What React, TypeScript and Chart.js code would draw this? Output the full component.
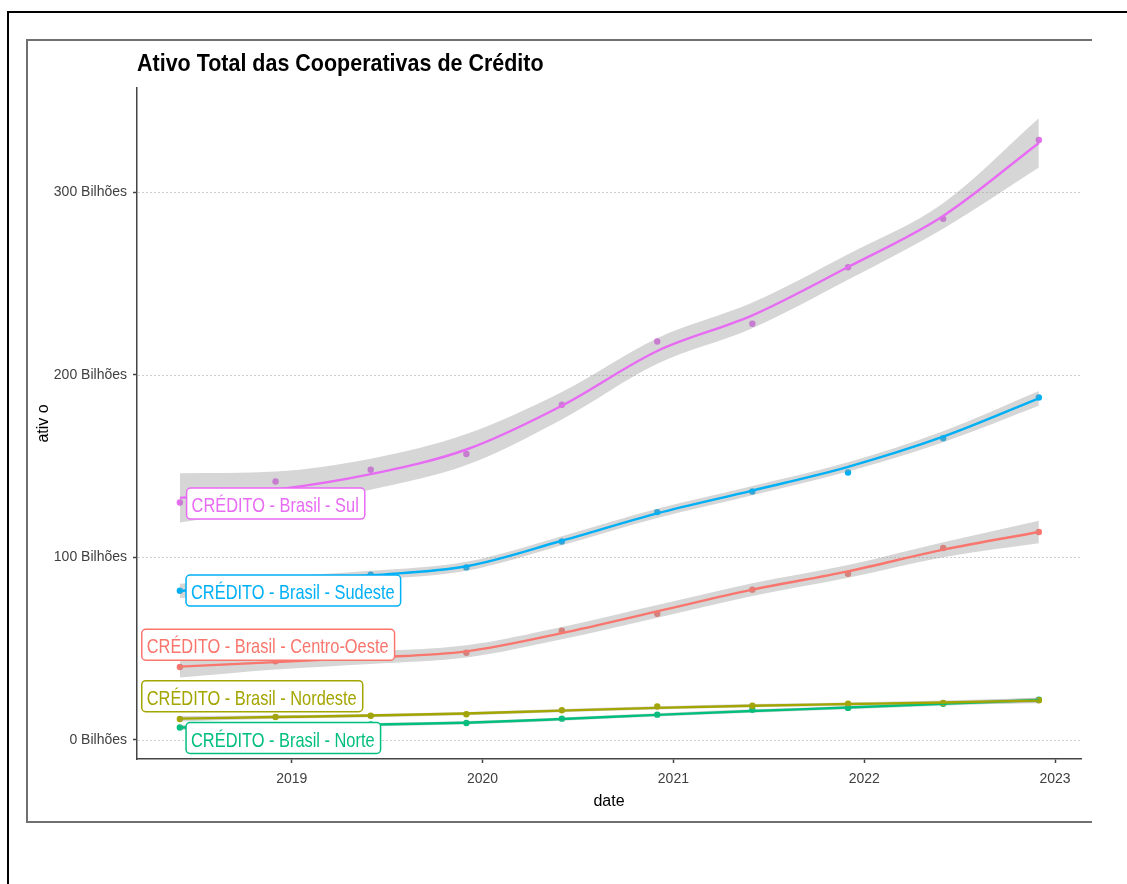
import React, { useEffect, useRef } from "react";
import { Chart, registerables } from "chart.js";

Chart.register(...registerables);

// ---------- data ----------
const dates = [
  "2018-06-01", "2018-12-01", "2019-06-01", "2019-12-01", "2020-06-01",
  "2020-12-01", "2021-06-01", "2021-12-01", "2022-06-01", "2022-12-01",
];

const regions = [
  "CRÉDITO - Brasil - Centro-Oeste",
  "CRÉDITO - Brasil - Nordeste",
  "CRÉDITO - Brasil - Norte",
  "CRÉDITO - Brasil - Sudeste",
  "CRÉDITO - Brasil - Sul",
];

// observed points (Bilhões)
const centroOeste = [39.8, 42.9, 45.0, 47.6, 59.7, 69.0, 82.2, 90.9, 105.0, 113.8];
const nordeste = [11.3, 12.4, 13.1, 13.9, 16.1, 18.2, 18.6, 19.7, 20.1, 21.6];
const norte = [6.7, 7.6, 8.3, 9.1, 11.5, 13.7, 16.4, 17.4, 19.7, 21.9];
const sudeste = [81.6, 85.0, 90.4, 94.4, 108.6, 124.7, 136.0, 146.4, 165.2, 187.5];
const sul = [130.0, 141.5, 147.9, 156.5, 183.5, 218.2, 227.9, 258.9, 285.4, 328.6];

// smoothed (loess) fit
const centroOesteFit = [40.0, 42.5, 45.0, 48.4, 58.4, 70.3, 82.2, 92.2, 104.1, 113.8];
const nordesteFit = [11.5, 12.4, 13.2, 14.3, 15.9, 17.4, 18.6, 19.5, 20.4, 21.4];
const norteFit = [6.7, 7.5, 8.2, 9.3, 11.3, 13.6, 15.7, 17.6, 19.6, 21.7];
const sudesteFit = [81.5, 86.0, 90.0, 95.0, 109.0, 124.0, 136.5, 149.5, 166.0, 187.0];
const sulFit = [132.5, 137.0, 145.5, 159.0, 183.0, 213.0, 232.5, 259.0, 287.0, 327.0];

// confidence band lower / upper
const centroOesteLow = [34.0, 38.5, 41.5, 45.0, 55.0, 66.8, 78.7, 88.7, 100.0, 107.6];
const centroOesteHigh = [46.0, 46.5, 48.5, 51.8, 61.8, 73.8, 85.7, 95.7, 108.2, 120.0];
const nordesteLow = [10.0, 11.4, 12.3, 13.4, 15.0, 16.5, 17.7, 18.6, 19.4, 20.0];
const nordesteHigh = [13.0, 13.4, 14.1, 15.2, 16.8, 18.3, 19.5, 20.4, 21.4, 22.8];
const norteLow = [5.3, 6.5, 7.3, 8.4, 10.4, 12.7, 14.8, 16.7, 18.6, 20.3];
const norteHigh = [8.1, 8.5, 9.1, 10.2, 12.2, 14.5, 16.6, 18.5, 20.6, 23.1];
const sudesteLow = [77.5, 83.0, 87.5, 92.5, 106.5, 121.5, 134.0, 147.0, 163.0, 183.0];
const sudesteHigh = [85.5, 89.0, 92.5, 97.5, 111.5, 126.5, 139.0, 152.0, 169.0, 191.0];
const sulLow = [119.0, 127.0, 137.0, 150.5, 175.5, 206.0, 225.5, 252.0, 280.0, 313.5];
const sulHigh = [146.0, 147.0, 154.0, 167.5, 190.5, 220.0, 239.5, 266.0, 294.0, 340.5];

// label anchors (left edge as decimal year, vertical centre in Bilhões)
const labelX = [2018.214, 2018.214, 2018.446, 2018.446, 2018.449];
const labelY = [52.0, 23.8, 0.9, 81.7, 129.4];

const yearTicks = [2019, 2020, 2021, 2022, 2023];
const valueTicks = [0, 100, 200, 300];

const title = "Ativo Total das Cooperativas de Crédito";
const xTitle = "date";
const yTitle = "ativ o";

// ---------- styling ----------
const colors = ["#F8766D", "#A3A500", "#00BF7D", "#00B0F6", "#E76BF3"];
const FONT = '"Liberation Sans", Arial, Helvetica, sans-serif';
const RIBBON = "rgba(153,153,153,0.4)";

const observed = [centroOeste, nordeste, norte, sudeste, sul];
const fits = [centroOesteFit, nordesteFit, norteFit, sudesteFit, sulFit];
const lows = [centroOesteLow, nordesteLow, norteLow, sudesteLow, sulLow];
const highs = [centroOesteHigh, nordesteHigh, norteHigh, sudesteHigh, sulHigh];

function toYear(s: string): number {
  const [y, m, d] = s.split("-").map(Number);
  const start = Date.UTC(y, 0, 1);
  const end = Date.UTC(y + 1, 0, 1);
  return y + (Date.UTC(y, m - 1, d) - start) / (end - start);
}

function pts(vals: number[]) {
  return dates.map((d, j) => ({ x: toYear(d), y: vals[j] }));
}

const decorPlugin = {
  id: "decor",
  beforeDatasetsDraw(chart: any) {
    const { ctx, chartArea } = chart;
    const ys = chart.scales.y;
    ctx.save();
    ctx.strokeStyle = "#cfcfcf";
    ctx.lineWidth = 1;
    ctx.setLineDash([2, 2]);
    valueTicks.forEach((v) => {
      const y = Math.round(ys.getPixelForValue(v)) + 0.5;
      ctx.beginPath();
      ctx.moveTo(chartArea.left + 1, y);
      ctx.lineTo(chartArea.right, y);
      ctx.stroke();
    });
    ctx.restore();
  },
  afterDatasetsDraw(chart: any) {
    const { ctx } = chart;
    const xs = chart.scales.x;
    const ys = chart.scales.y;
    const SX = 0.78;
    ctx.save();
    ctx.font = `21px ${FONT}`;
    regions.forEach((txt, i) => {
      const left = xs.getPixelForValue(labelX[i]);
      const cy = ys.getPixelForValue(labelY[i]);
      const tw = ctx.measureText(txt).width * SX;
      const w = tw + 11;
      const h = 31;
      const top = cy - h / 2;
      const r = 4;
      ctx.beginPath();
      ctx.moveTo(left + r, top);
      ctx.lineTo(left + w - r, top);
      ctx.arcTo(left + w, top, left + w, top + r, r);
      ctx.lineTo(left + w, top + h - r);
      ctx.arcTo(left + w, top + h, left + w - r, top + h, r);
      ctx.lineTo(left + r, top + h);
      ctx.arcTo(left, top + h, left, top + h - r, r);
      ctx.lineTo(left, top + r);
      ctx.arcTo(left, top, left + r, top, r);
      ctx.closePath();
      ctx.fillStyle = "#ffffff";
      ctx.fill();
      ctx.strokeStyle = colors[i];
      ctx.lineWidth = 1.5;
      ctx.stroke();
      ctx.save();
      ctx.translate(left + 5, cy + 8.5);
      ctx.scale(SX, 1);
      ctx.fillStyle = colors[i];
      ctx.textBaseline = "alphabetic";
      ctx.textAlign = "left";
      ctx.fillText(txt, 0, 0);
      ctx.restore();
    });
    ctx.restore();
  },
  afterDraw(chart: any) {
    const { ctx, chartArea } = chart;
    ctx.save();
    // title
    ctx.save();
    ctx.font = `bold 24px ${FONT}`;
    ctx.fillStyle = "#000000";
    ctx.textBaseline = "alphabetic";
    ctx.translate(chartArea.left, 70.5);
    ctx.scale(0.895, 1);
    ctx.fillText(title, 0, 0);
    ctx.restore();
    // x title
    ctx.font = `16px ${FONT}`;
    ctx.fillStyle = "#000000";
    ctx.textAlign = "center";
    ctx.textBaseline = "alphabetic";
    ctx.fillText(xTitle, (chartArea.left + chartArea.right) / 2, 806);
    // y title
    ctx.save();
    ctx.translate(48, (chartArea.top + chartArea.bottom) / 2);
    ctx.rotate(-Math.PI / 2);
    ctx.fillText(yTitle, 0, 0);
    ctx.restore();
    ctx.restore();
  },
};

export default function App() {
  const ref = useRef<HTMLCanvasElement | null>(null);

  useEffect(() => {
    if (!ref.current) return;
    const datasets: any[] = [];
    // points (bottom layer)
    observed.forEach((vals, i) => {
      datasets.push({
        data: pts(vals),
        showLine: false,
        pointRadius: 3.2,
        pointBackgroundColor: colors[i],
        pointBorderWidth: 0,
        borderColor: colors[i],
        order: 3,
      });
    });
    // ribbons
    regions.forEach((_, i) => {
      datasets.push({
        data: pts(lows[i]),
        borderWidth: 0,
        pointRadius: 0,
        fill: false,
        cubicInterpolationMode: "monotone",
        order: 2,
      });
      datasets.push({
        data: pts(highs[i]),
        borderWidth: 0,
        pointRadius: 0,
        fill: "-1",
        backgroundColor: RIBBON,
        cubicInterpolationMode: "monotone",
        order: 2,
      });
    });
    // smooth lines (top)
    fits.forEach((vals, i) => {
      datasets.push({
        data: pts(vals),
        borderColor: colors[i],
        borderWidth: 2.4,
        pointRadius: 0,
        fill: false,
        cubicInterpolationMode: "monotone",
        order: 1,
      });
    });

    const tickFont = { family: FONT, size: 14 };
    const chart = new Chart(ref.current, {
      type: "line",
      data: { datasets },
      options: {
        animation: false,
        responsive: false,
        maintainAspectRatio: false,
        layout: { padding: { left: 37, right: 46, top: 88, bottom: 65 } },
        plugins: {
          legend: { display: false },
          tooltip: { enabled: false },
          title: { display: false },
        },
        scales: {
          x: {
            type: "linear",
            min: 2018.189,
            max: 2023.136,
            afterBuildTicks: (s: any) => {
              s.ticks = yearTicks.map((v) => ({ value: v }));
            },
            afterFit: (s: any) => {
              s.height = 60;
            },
            ticks: {
              font: tickFont,
              color: "#404040",
              padding: 8,
              maxRotation: 0,
              autoSkip: false,
              callback: (_v: any, idx: number, ticks: any[]) => String(ticks[idx].value),
            },
            grid: {
              drawOnChartArea: false,
              drawTicks: true,
              tickLength: 4,
              tickColor: "#444444",
              tickWidth: 1.5,
            },
            border: { display: true, color: "#444444", width: 1.5 },
            title: { display: false },
          },
          y: {
            type: "linear",
            min: -10.6,
            max: 357.1,
            afterBuildTicks: (s: any) => {
              s.ticks = valueTicks.map((v) => ({ value: v }));
            },
            afterFit: (s: any) => {
              s.width = 100;
            },
            ticks: {
              font: tickFont,
              color: "#404040",
              padding: 6,
              autoSkip: false,
              callback: (_v: any, idx: number, ticks: any[]) => `${ticks[idx].value} Bilhões`,
            },
            grid: {
              drawOnChartArea: false,
              drawTicks: true,
              tickLength: 4,
              tickColor: "#444444",
              tickWidth: 1.5,
            },
            border: { display: true, color: "#444444", width: 1.5 },
            title: { display: false },
          },
        },
      } as any,
      plugins: [decorPlugin],
    });
    return () => chart.destroy();
  }, []);

  return (
    <div
      style={{
        position: "absolute",
        left: 0,
        top: 0,
        width: 1127,
        height: 884,
        background: "#ffffff",
        overflow: "hidden",
      }}
    >
      <canvas
        ref={ref}
        width={1127}
        height={884}
        style={{ position: "absolute", left: 0, top: 0, width: 1127, height: 884 }}
      />
      {/* outer frame (left + top) */}
      <div
        style={{
          position: "absolute",
          left: 7,
          top: 11,
          width: 1127,
          height: 884,
          borderLeft: "2px solid #000",
          borderTop: "2px solid #000",
          pointerEvents: "none",
        }}
      />
      {/* inner frame (left, top, bottom) */}
      <div
        style={{
          position: "absolute",
          left: 26,
          top: 39,
          width: 1064,
          height: 780,
          borderLeft: "2px solid #707070",
          borderTop: "2px solid #707070",
          borderBottom: "2px solid #707070",
          pointerEvents: "none",
        }}
      />
    </div>
  );
}
